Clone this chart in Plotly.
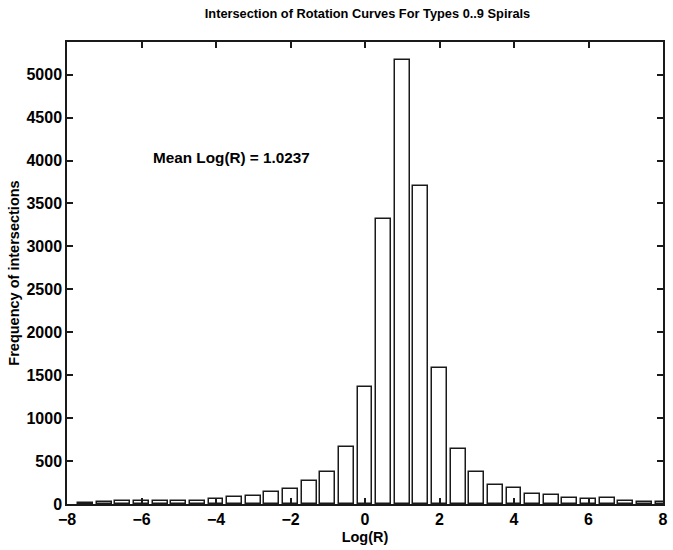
import plotly.graph_objects as go

bin_centers = [-7.5, -7.0, -6.5, -6.0, -5.5, -5.0, -4.5, -4.0, -3.5, -3.0, -2.5, -2.0,
               -1.5, -1.0, -0.5, 0.0, 0.5, 1.0, 1.5, 2.0, 2.5, 3.0, 3.5, 4.0,
               4.5, 5.0, 5.5, 6.0, 6.5, 7.0, 7.5, 8.0]
counts = [15, 25, 30, 30, 32, 36, 40, 54, 85, 94, 135, 176,
          273, 377, 665, 1363, 3320, 5165, 3705, 1585, 642, 373, 226, 186,
          120, 110, 72, 60, 65, 36, 28, 25]
x_ticks = [-8, -6, -4, -2, 0, 2, 4, 6, 8]
y_ticks = [0, 500, 1000, 1500, 2000, 2500, 3000, 3500, 4000, 4500, 5000]

title_text = "Intersection of Rotation Curves For Types 0..9 Spirals"
xlabel = "Log(R)"
ylabel = "Frequency of intersections"
mean_text = "Mean Log(R) = 1.0237"

FONT = "Liberation Sans, Arial, sans-serif"

fig = go.Figure()
fig.add_trace(go.Bar(
    x=bin_centers, y=counts, width=0.4,
    marker=dict(color="white", line=dict(color="#1a1a1a", width=1.5)),
    showlegend=False,
))

fig.update_layout(
    width=673, height=550,
    margin=dict(l=67, r=5, t=42, b=46),
    paper_bgcolor="white", plot_bgcolor="white",
    font=dict(family=FONT, color="black", size=15, weight="bold"),
    title=dict(text=title_text, x=(67 + 668) / 2 / 673, xanchor="center",
               y=1 - 14 / 550, yanchor="middle",
               font=dict(family=FONT, size=12.8, weight="bold")),
    xaxis=dict(range=[-8, 8], tickvals=x_ticks, ticks="inside", ticklen=6,
               tickwidth=1.5, tickcolor="#1a1a1a",
               showline=True, linecolor="#1a1a1a", linewidth=1.5, mirror="ticks",
               showgrid=False, zeroline=False,
               tickfont=dict(family=FONT, size=16, weight="bold"),
               title=dict(text=xlabel, standoff=5,
                          font=dict(family=FONT, size=14.5, weight="bold"))),
    yaxis=dict(range=[0, 5380], tickvals=y_ticks, ticks="inside", ticklen=6,
               tickwidth=1.5, tickcolor="#1a1a1a",
               showline=True, linecolor="#1a1a1a", linewidth=1.5, mirror="ticks",
               showgrid=False, zeroline=False,
               tickfont=dict(family=FONT, size=16, weight="bold"),
               title=dict(text=ylabel, standoff=3,
                          font=dict(family=FONT, size=14.5, weight="bold"))),
    bargap=0,
)

fig.add_annotation(x=-5.75, y=4030, xref="x", yref="y", text=mean_text,
                   showarrow=False, xanchor="left", yanchor="middle",
                   font=dict(family=FONT, size=15.3, weight="bold"))

fig.write_html("out.html")
